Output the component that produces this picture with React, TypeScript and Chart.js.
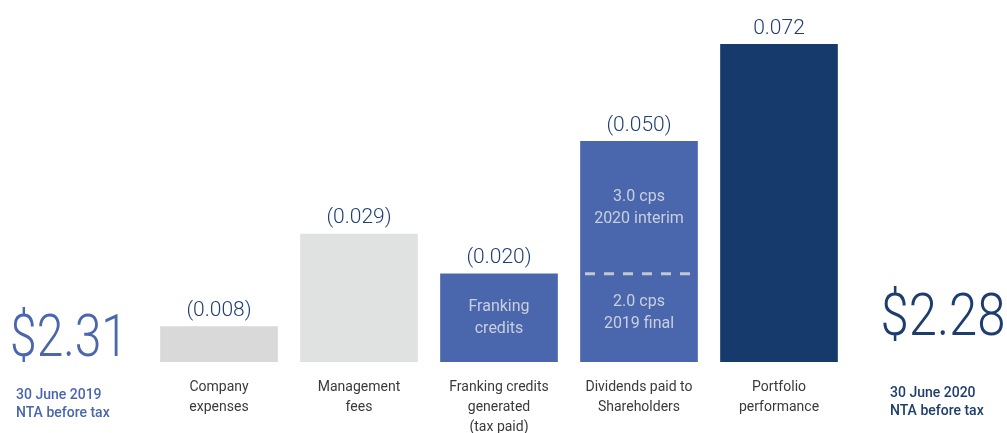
import React, { useEffect, useRef } from "react";
import { Chart, registerables } from "chart.js";

Chart.register(...registerables);

const categories: string[][] = [
  [],
  ["Company", "expenses"],
  ["Management", "fees"],
  ["Franking credits", "generated", "(tax paid)"],
  ["Dividends paid to", "Shareholders"],
  ["Portfolio", "performance"],
  [],
];
const baseValues: (number | null)[] = [null, 0.008, 0.029, 0.02, 0.02, 0.072, null];
const topValues: (number | null)[] = [null, null, null, null, 0.03, null, null];
const valueLabels: string[] = ["", "(0.008)", "(0.029)", "(0.020)", "(0.050)", "0.072", ""];
const barColors: string[] = ["#ffffff", "#d9d9d9", "#dfe2e0", "#4a67ad", "#4a67ad", "#173a6c", "#ffffff"];
const startNTA = "$2.31";
const endNTA = "$2.28";
const startLabel = ["30 June 2019", "NTA before tax"];
const endLabel = ["30 June 2020", "NTA before tax"];
const frankingInner = ["Franking", "credits"];
const interimInner = ["3.0 cps", "2020 interim"];
const finalInner = ["2.0 cps", "2019 final"];

const textPlugin = {
  id: "textPlugin",
  afterDatasetsDraw(chart: any) {
    const ctx = chart.ctx as CanvasRenderingContext2D;
    const xs = chart.scales.x;
    const ys = chart.scales.y;
    ctx.save();
    ctx.textAlign = "center";
    ctx.textBaseline = "middle";

    // value labels above bars
    for (let i = 0; i < valueLabels.length; i++) {
      if (!valueLabels[i]) continue;
      const total = (baseValues[i] || 0) + (topValues[i] || 0);
      const x = xs.getPixelForValue(i);
      const y = ys.getPixelForValue(total);
      ctx.fillStyle = "#1f3f73";
      ctx.font = "300 21px Roboto";
      ctx.fillText(valueLabels[i], x, y - 16);
    }

    // category labels
    ctx.fillStyle = "#3a3a3a";
    ctx.font = "400 14px Roboto";
    for (let i = 0; i < categories.length; i++) {
      const x = xs.getPixelForValue(i);
      categories[i].forEach((line, j) => ctx.fillText(line, x, 387 + j * 20));
    }

    // inner bar labels
    ctx.fillStyle = "#c9cfdd";
    ctx.font = "400 16px Roboto";
    const fx = xs.getPixelForValue(3);
    frankingInner.forEach((l, j) => ctx.fillText(l, fx, 307 + j * 22));
    const dx = xs.getPixelForValue(4);
    interimInner.forEach((l, j) => ctx.fillText(l, dx, 197 + j * 22));
    finalInner.forEach((l, j) => ctx.fillText(l, dx, 302 + j * 22));

    // dashed separator
    const sepY = ys.getPixelForValue(baseValues[4] as number);
    ctx.strokeStyle = "#c3c7d0";
    ctx.lineWidth = 3;
    ctx.setLineDash([10, 9]);
    ctx.beginPath();
    ctx.moveTo(dx - 54, sepY);
    ctx.lineTo(dx + 54, sepY);
    ctx.stroke();
    ctx.setLineDash([]);

    // big NTA numbers
    const drawFit = (t: string, cx: number, cy: number, w: number, color: string) => {
      ctx.font = "300 60px Roboto";
      const m = ctx.measureText(t).width;
      ctx.save();
      ctx.translate(cx, cy);
      ctx.scale(w / m, 1);
      ctx.fillStyle = color;
      ctx.fillText(t, 0, 0);
      ctx.restore();
    };
    drawFit(startNTA, 69, 341, 118, "#4a67ad");
    drawFit(endNTA, 943, 320, 125, "#1d3d6e");

    ctx.textAlign = "left";
    ctx.font = "500 14px Roboto";
    ctx.fillStyle = "#4a67ad";
    startLabel.forEach((l, j) => ctx.fillText(l, 16, 395 + j * 18));
    ctx.fillStyle = "#1d3d6e";
    endLabel.forEach((l, j) => ctx.fillText(l, 890, 393 + j * 18));
    ctx.restore();
  },
};

export default function App() {
  const ref = useRef<HTMLCanvasElement>(null);
  useEffect(() => {
    document.body.style.margin = "0";
    const chart = new Chart(ref.current as HTMLCanvasElement, {
      type: "bar",
      data: {
        labels: categories.map((c) => c.join(" ")),
        datasets: [
          { data: baseValues, backgroundColor: barColors, barThickness: 117, borderWidth: 0 },
          { data: topValues, backgroundColor: "#4a67ad", barThickness: 117, borderWidth: 0 },
        ],
      },
      options: {
        animation: false,
        responsive: false,
        maintainAspectRatio: false,
        layout: { padding: { left: 9, right: 18, top: 9, bottom: 71 } },
        plugins: { legend: { display: false }, tooltip: { enabled: false } },
        scales: {
          x: { display: false, stacked: true },
          y: { display: false, stacked: true, min: 0, max: 0.08 },
        },
      },
      plugins: [textPlugin],
    });
    return () => chart.destroy();
  }, []);
  return (
    <div style={{ width: 1007, height: 433 }}>
      <canvas ref={ref} width={1007} height={433} />
    </div>
  );
}
